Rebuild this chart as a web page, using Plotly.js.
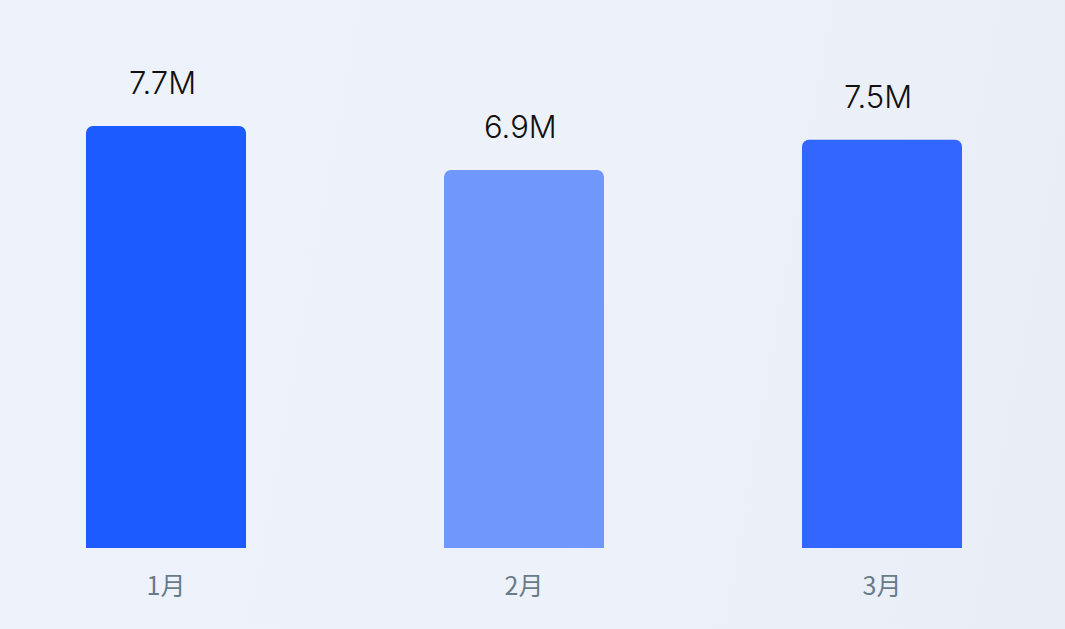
<!DOCTYPE html>
<html>
<head>
<meta charset="utf-8">
<script src="https://cdn.plot.ly/plotly-3.0.1.min.js"></script>
<style>
  html, body {
    margin: 0;
    padding: 0;
    width: 1065px;
    height: 629px;
    overflow: hidden;
    background: linear-gradient(100deg, #eef3fb 0%, #edf2fa 55%, #e8edf6 100%);
  }
  #app { width: 1065px; height: 629px; }
</style>
</head>
<body>
<div id="app"></div>
<script>
// chart data
const months = ['1月', '2月', '3月'];
const sales = [7.7, 6.9, 7.45];
const labels = ['7.7M', '6.9M', '7.5M'];
const barColors = ['#1b5bff', '#6f97fc', '#3366ff'];

const trace = {
  type: 'bar',
  x: months,
  y: sales,
  marker: { color: barColors },
  width: 0.447,
  hoverinfo: 'skip',
};

// value labels sit above each bar
const annotations = months.map((m, i) => ({
  x: m,
  y: sales[i],
  xref: 'x',
  yref: 'y',
  text: labels[i],
  showarrow: false,
  yanchor: 'bottom',
  yshift: 23,
  xshift: -4,
  font: { family: 'Inter, "Noto Sans", sans-serif', size: 31, color: '#111111', weight: 300 },
}));

const layout = {
  width: 1065,
  height: 629,
  margin: { l: 0, r: 0, t: 0, b: 81 },
  paper_bgcolor: 'rgba(0,0,0,0)',
  plot_bgcolor: 'rgba(0,0,0,0)',
  barcornerradius: 7,
  showlegend: false,
  xaxis: {
    type: 'category',
    range: [-0.4637, 2.5112],
    showgrid: false,
    zeroline: false,
    showline: false,
    ticks: '',
    ticklabelstandoff: 21,
    tickfont: { family: '"Noto Sans CJK SC", "Noto Sans", sans-serif', size: 25, color: '#677b88' },
  },
  yaxis: {
    range: [0, 10],
    showgrid: false,
    zeroline: false,
    showline: false,
    showticklabels: false,
  },
  annotations: annotations,
};

Plotly.newPlot('app', [trace], layout, { displayModeBar: false, staticPlot: true });
</script>
</body>
</html>
